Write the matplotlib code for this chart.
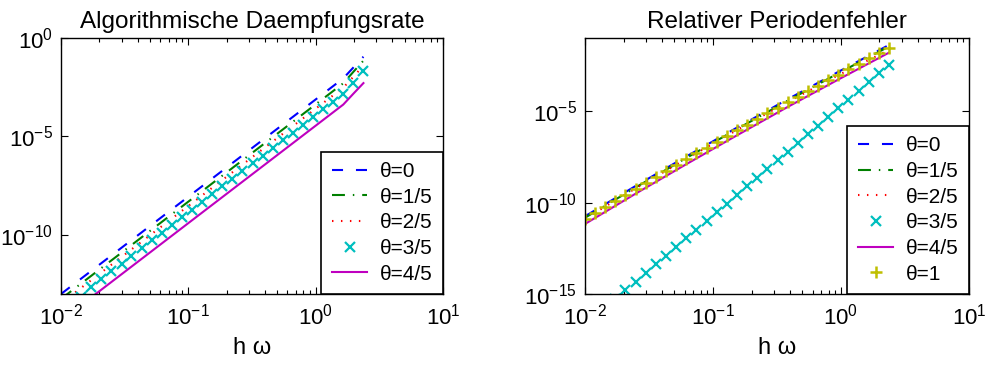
import numpy as np
import matplotlib
matplotlib.use("Agg")
import matplotlib.pyplot as plt
from matplotlib.ticker import LogLocator, NullLocator, NullFormatter

plt.rcParams['font.family'] = ['Liberation Sans', 'DejaVu Sans']
plt.rcParams['mathtext.default'] = 'regular'

# h*omega sample points (marker positions)
hw = [0.0100, 0.0120, 0.0144, 0.0173, 0.0207, 0.0249, 0.0299, 0.0358, 0.0430, 0.0516,
      0.0619, 0.0743, 0.0892, 0.1070, 0.1284, 0.1541, 0.1849, 0.2219, 0.2662, 0.3195,
      0.3834, 0.4601, 0.5521, 0.6625, 0.7950, 0.9540, 1.1448, 1.3737, 1.6484, 1.9781,
      2.3738]
hw_left_lines = [0.0100, 1.6484, 1.9781, 2.3738]
hw_right_lines = [0.0100, 0.0249, 0.0619, 0.1541, 0.3834, 0.9540, 2.3738]

# left: algorithmic damping rate, log10 values
damp_t0 = [-13.00, -2.05, -1.50, -0.95]
damp_t15 = [-13.25, -2.30, -1.72, -1.15]
damp_t25 = [-13.47, -2.52, -1.97, -1.40]
damp_t45 = [-14.35, -3.38, -2.83, -2.29]
damp_t35 = [-13.80, -13.41, -13.15, -12.63, -12.24, -11.85, -11.46, -11.07, -10.67, -10.28,
            -9.89, -9.50, -9.11, -8.72, -8.33, -7.94, -7.54, -7.15, -6.76, -6.37,
            -5.98, -5.59, -5.20, -4.81, -4.41, -4.02, -3.63, -3.24, -2.85, -2.30,
            -1.70]

# right: relative period error, log10 values
per_t0 = [-10.75, -9.09, -7.48, -5.90, -4.35, -2.85, -1.38]
per_t15 = [-10.83, -9.17, -7.56, -5.98, -4.43, -2.93, -1.46]
per_t25 = [-10.88, -9.22, -7.61, -6.03, -4.50, -3.03, -1.65]
per_t45 = [-11.17, -9.51, -7.90, -6.32, -4.77, -3.27, -1.80]
per_t35 = [-16.70, -16.22, -15.75, -15.27, -14.80, -14.33, -13.85, -13.38, -12.90, -12.43,
           -11.95, -11.48, -11.01, -10.53, -10.06, -9.58, -9.11, -8.63, -8.16, -7.69,
           -7.21, -6.74, -6.26, -5.79, -5.31, -4.84, -4.37, -3.89, -3.42, -2.94,
           -2.47]
per_t1 = [-10.90, -10.57, -10.23, -9.90, -9.57, -9.24, -8.92, -8.59, -8.27, -7.95,
          -7.63, -7.31, -6.99, -6.67, -6.36, -6.05, -5.74, -5.43, -5.12, -4.81,
          -4.50, -4.20, -3.90, -3.60, -3.30, -3.00, -2.70, -2.41, -2.11, -1.82,
          -1.53]

labels = ["θ=0", "θ=1/5", "θ=2/5", "θ=3/5", "θ=4/5", "θ=1"]

blue, green, red = (0, 0, 1), (0, 0.5, 0), (1, 0, 0)
cyan, magenta, yellow = (0, 0.75, 0.75), (0.75, 0, 0.75), (0.75, 0.75, 0)
lw = 1.5
fs_tick = 16
fs_leg = 15
fs_title = 17.5


def p(v):
    return 10.0 ** np.array(v)


def style_axes(ax, ylim, yticks):
    ax.set_xscale("log")
    ax.set_yscale("log")
    ax.set_xlim(1e-2, 1e1)
    ax.set_ylim(*ylim)
    ax.set_xticks([1e-2, 1e-1, 1e0, 1e1])
    ax.xaxis.set_minor_locator(LogLocator(base=10, subs=np.arange(2, 10), numticks=20))
    ax.xaxis.set_minor_formatter(NullFormatter())
    ax.set_yticks(yticks)
    ax.yaxis.set_minor_locator(NullLocator())
    ax.tick_params(which="both", direction="in", top=True, right=True, labelsize=fs_tick)
    ax.tick_params(axis="x", pad=7)
    ax.tick_params(axis="y", pad=6)
    ax.tick_params(which="major", length=5, width=0.8)
    ax.tick_params(which="minor", length=3, width=0.8)
    for s in ax.spines.values():
        s.set_linewidth(1.0)
    ax.set_xlabel("h ω", fontsize=fs_tick + 1, labelpad=5)


def common_lines(ax, x, v0, v15, v25):
    l0, = ax.plot(x, p(v0), color=blue, lw=lw)
    l0.set_dashes([5.3, 6.2])
    l1, = ax.plot(x, p(v15), color=green, lw=lw)
    l1.set_dashes([6.2, 3.8, 0.7, 3.8])
    l2, = ax.plot(x, p(v25), color=red, lw=lw)
    l2.set_dashes([0.7, 3.6])
    return l0, l1, l2


def legend(ax, handles, labs):
    leg = ax.legend(handles, labs, loc="lower right", fontsize=fs_leg, borderaxespad=0,
                    fancybox=False, edgecolor="black", framealpha=1, handlelength=1.7,
                    labelspacing=0.32, handletextpad=0.6, borderpad=0.5, numpoints=1)
    leg.get_frame().set_linewidth(1.2)
    return leg


fig = plt.figure(figsize=(9.85, 3.65), dpi=100)
ax1 = fig.add_axes([0.0619, 0.1945, 0.3878, 0.7014])
ax2 = fig.add_axes([0.5939, 0.1945, 0.3898, 0.7014])

# left panel
h1 = list(common_lines(ax1, hw_left_lines, damp_t0, damp_t15, damp_t25))
h1.append(ax1.plot(hw, p(damp_t35), ls="none", marker="x", ms=6.5, mew=1.6, color=cyan)[0])
h1.append(ax1.plot(hw_left_lines, p(damp_t45), color=magenta, lw=lw)[0])
style_axes(ax1, (1e-13, 1e0), [1e-10, 1e-5, 1e0])
ax1.set_title("Algorithmische Daempfungsrate", fontsize=fs_title, pad=7)
legend(ax1, h1, labels[:5])

# right panel
h2 = list(common_lines(ax2, hw_right_lines, per_t0, per_t15, per_t25))
h2.append(ax2.plot(hw, p(per_t35), ls="none", marker="x", ms=6.5, mew=1.6, color=cyan)[0])
h2.append(ax2.plot(hw_right_lines, p(per_t45), color=magenta, lw=lw)[0])
h2.append(ax2.plot(hw, p(per_t1), ls="none", marker="+", ms=9, mew=1.8, color=yellow)[0])
style_axes(ax2, (1e-15, 1e-1), [1e-15, 1e-10, 1e-5])
ax2.set_title("Relativer Periodenfehler", fontsize=fs_title, pad=7)
legend(ax2, h2, labels)

fig.savefig("out.png", dpi=100)
